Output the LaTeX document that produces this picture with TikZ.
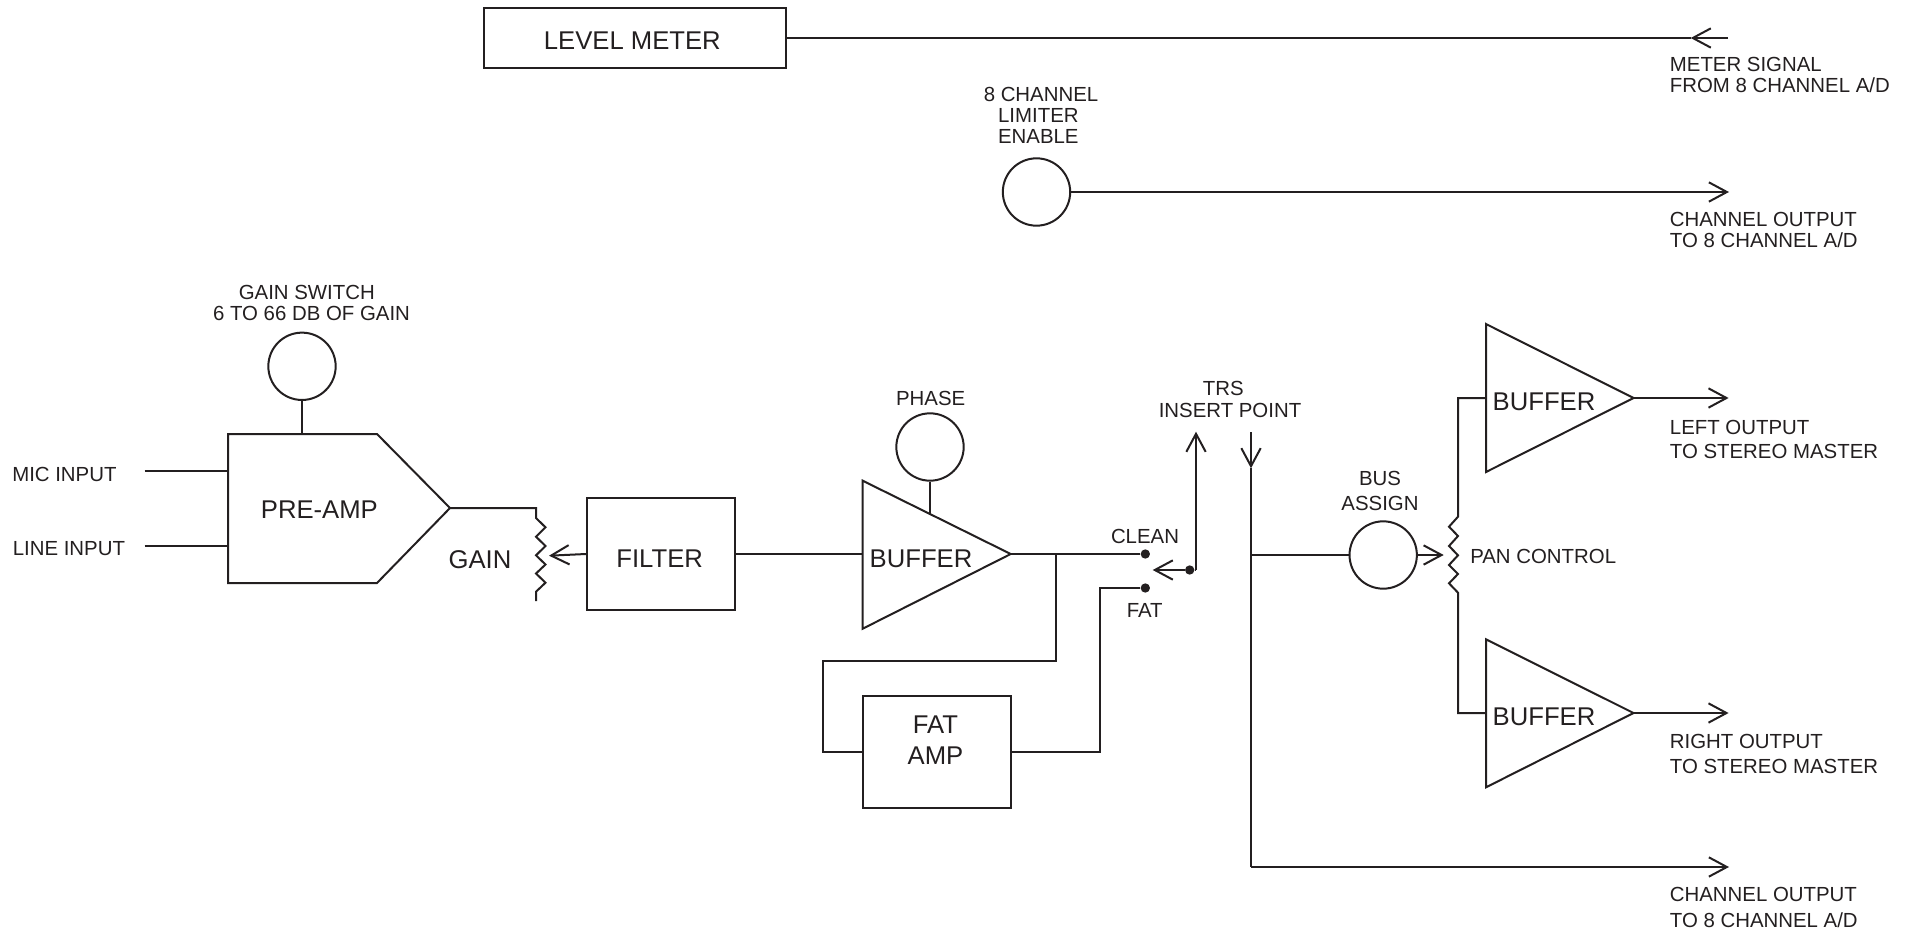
\documentclass[tikz,border=0pt]{standalone}
\usepackage{fontspec}
\setmainfont{Liberation Sans}
\usetikzlibrary{arrows.meta}
\definecolor{ink}{HTML}{231F20}
\tikzset{
  x=0.75pt,y=-0.75pt,
  wire/.style={draw=ink,line width=1.5pt,line join=miter,line cap=butt},
  barb/.style={wire,-{Straight Barb[length=13.5pt,width=14.5pt,line width=1.5pt]}},
  small/.style={inner sep=0pt,text=ink,yshift=-0.75pt,font=\fontsize{15.3}{15.8}\selectfont,align=center},
  smallleft/.style={small,align=left,xshift=-0.8pt},
  big/.style={inner sep=0pt,text=ink,yshift=-0.75pt,font=\fontsize{19.25}{23}\selectfont,align=center},
  boxnode/.style={wire,rectangle,inner sep=0pt,text=ink,font=\fontsize{19.25}{23}\selectfont},
  knob/.style={wire,circle,inner sep=0pt,minimum size=50.5pt},
  contact/.style={circle,fill=ink,inner sep=0pt,minimum size=7pt},
}
\begin{document}
\begin{tikzpicture}
\useasboundingbox (0,0) rectangle (1913,931);

% ---------- boxes
\node[boxnode,minimum width=226.5pt,minimum height=44.5pt,text height=19.5pt,text depth=1.5pt] (meter) at (634.7,38) {\hspace*{-3.6pt}LEVEL METER};
\node[boxnode,minimum width=111pt,minimum height=83.5pt,text height=21pt,text depth=1.5pt] (filter) at (661,554) {\hspace*{-2pt}FILTER};
\node[boxnode,minimum width=111.5pt,minimum height=83.5pt] (fatamp) at (937,752) {};
\node[big,font=\fontsize{19.25}{23.2}\selectfont] (fatamptext) at (935.5,739.5) {FAT\\AMP};

% ---------- knobs
\node[knob] (limiter) at (1036.5,192) {};
\node[knob] (gainsw) at (302,366.3) {};
\node[knob] (phasesw) at (930,447) {};
\node[knob] (busknob) at (1383.2,555) {};

% ---------- pre-amp
\coordinate (paTL) at (228,434);
\coordinate (paTR) at (377,434);
\coordinate (paTip) at (450,508);
\coordinate (paBR) at (377,583);
\coordinate (paBL) at (228,583);
\draw[wire] (paTL) -- (paTR) -- (paTip) -- (paBR) -- (paBL) -- cycle;
\node[big] (patext) at (319.4,509) {PRE-AMP};
\coordinate (paTop) at (302,434);
\coordinate (paMic) at (228,471);
\coordinate (paLine) at (228,546);
\coordinate (micEnd) at (144.5,471);
\coordinate (lineEnd) at (144.5,546);

% ---------- buffers
\coordinate (b1A) at (862.7,480.7);
\coordinate (b1B) at (862.7,628.7);
\coordinate (b1Tip) at (1010.7,554);
\coordinate (b1In) at (862.7,554);
\coordinate (b1Top) at (930,514);
\draw[wire] (b1A) -- (b1Tip) -- (b1B) -- cycle;
\node[big] (b1text) at (921,558) {BUFFER};

\coordinate (b2A) at (1486,324);
\coordinate (b2B) at (1486,472);
\coordinate (b2Tip) at (1633.5,398);
\coordinate (b2In) at (1486,398);
\draw[wire] (b2A) -- (b2Tip) -- (b2B) -- cycle;
\node[big] (b2text) at (1544,401) {BUFFER};

\coordinate (b3A) at (1486,639.3);
\coordinate (b3B) at (1486,787.3);
\coordinate (b3Tip) at (1633.5,713);
\coordinate (b3In) at (1486,713);
\draw[wire] (b3A) -- (b3Tip) -- (b3B) -- cycle;
\node[big] (b3text) at (1544,716) {BUFFER};

% ---------- connectors, top
\coordinate (mEnd) at (1728,38);
\coordinate (mTip) at (1690.7,38);
\draw[barb] (mEnd) -- (mTip);
\draw[wire] (mTip) -- (meter.east);
\coordinate (limEnd) at (1729,192);
\draw[barb] (limiter.east) -- (limEnd);

% ---------- pre-amp connectors
\draw[wire] (micEnd) -- (paMic);
\draw[wire] (lineEnd) -- (paLine);
\draw[wire] (gainsw.south) -- (paTop);

% ---------- gain pot
\coordinate (gainTop) at (536,508);
\coordinate (gainWiper) at (549,555.7);
\draw[wire] (paTip) -- (gainTop) -- (536,518) -- (545.5,527.3) -- (536,536.7) -- (545.5,546) -- (536,555.3) -- (545.5,564.5) -- (536,573.5) -- (545.5,582.7) -- (536,591.7) -- (536,601);
\draw[barb] (filter.west) -- (gainWiper);

% ---------- main path
\draw[wire] (filter.east) -- (b1In);
\draw[wire] (phasesw.south) -- (b1Top);
\node[contact] (clean) at (1145.3,554) {};
\node[contact] (fat) at (1145.3,588) {};
\node[contact] (com) at (1189.7,570) {};
\coordinate (tap) at (1056,554);
\draw[wire] (b1Tip) -- (clean);
\draw[wire] (tap) |- (823,661) |- (fatamp.west);
\coordinate (fatRise) at (1100,752);
\draw[wire] (fatamp.east) -- (fatRise) |- (fat);
\coordinate (comTip) at (1152.7,570);
\draw[barb] (com) -- (comTip);
\coordinate (sendCorner) at (1196,570);
\coordinate (sendTip) at (1196,431.7);
\draw[wire] (com) -- (sendCorner);
\draw[barb] (sendCorner) -- (sendTip);

% ---------- return bus
\coordinate (retTop) at (1251,432);
\coordinate (retTip) at (1251,468.3);
\coordinate (retCorner) at (1251,867);
\coordinate (retEnd) at (1729,867);
\coordinate (retBranch) at (1251,555);
\draw[barb] (retTop) -- (retTip);
\draw[wire] (retTip) -- (retCorner);
\draw[barb] (retCorner) -- (retEnd);
\draw[wire] (retBranch) -- (busknob.west);

% ---------- pan pot
\coordinate (panWiper) at (1443.7,555);
\draw[barb] (busknob.east) -- (panWiper);
\draw[wire] (b2In) -- (1458,398) -- (1458,516.7) -- (1449,526.7) -- (1458,536) -- (1449,546) -- (1458,555.3) -- (1449,565) -- (1458,574) -- (1449,583.3) -- (1458,592.7) -- (1458,713) -- (b3In);

% ---------- outputs
\coordinate (leftEnd) at (1728.6,398);
\coordinate (rightEnd) at (1728.6,713);
\draw[barb] (b2Tip) -- (leftEnd);
\draw[barb] (b3Tip) -- (rightEnd);

% ---------- labels
\node[small] (lLimiter) at (1041,114) {8 CHANNEL\\\hspace*{-4pt}LIMITER\\\hspace*{-4pt}ENABLE};
\node[small] (lGain) at (311.5,302.2) {GAIN SWITCH\hspace*{7pt}\\6 TO 66 DB OF GAIN};
\node[small,anchor=west] (lMic) at (12,473) {MIC INPUT};
\node[small,anchor=west] (lLine) at (12.5,547.7) {LINE INPUT};
\node[big] (lGainPot) at (480,558.3) {GAIN};
\node[small] (lPhase) at (930.7,397.7) {PHASE};
\node[small] (lClean) at (1145,535) {CLEAN};
\node[small] (lFat) at (1144.7,609) {FAT};
\node[small] (lTrs) at (1230,398.5) {TRS\hspace*{10pt}\\INSERT POINT};
\node[small,font=\fontsize{15.3}{18.4}\selectfont] (lBus) at (1380,490) {BUS\\ASSIGN};
\node[small,anchor=west] (lPan) at (1470,555) {PAN CONTROL};
\node[smallleft,anchor=west] (lMeterSig) at (1670.7,74.2) {METER SIGNAL\\FROM 8 CHANNEL A/D};
\node[smallleft,anchor=west] (lOut1) at (1670.7,229.2) {CHANNEL OUTPUT\\TO 8 CHANNEL A/D};
\node[smallleft,anchor=west,font=\fontsize{15.3}{18}\selectfont] (lLeft) at (1670.7,438) {LEFT OUTPUT\\TO STEREO MASTER};
\node[smallleft,anchor=west,font=\fontsize{15.3}{18.7}\selectfont] (lRight) at (1670.7,753.2) {RIGHT OUTPUT\\TO STEREO MASTER};
\node[smallleft,anchor=west,font=\fontsize{15.3}{19.5}\selectfont] (lOut2) at (1670.7,906.3) {CHANNEL OUTPUT\\TO 8 CHANNEL A/D};
\end{tikzpicture}
\end{document}
